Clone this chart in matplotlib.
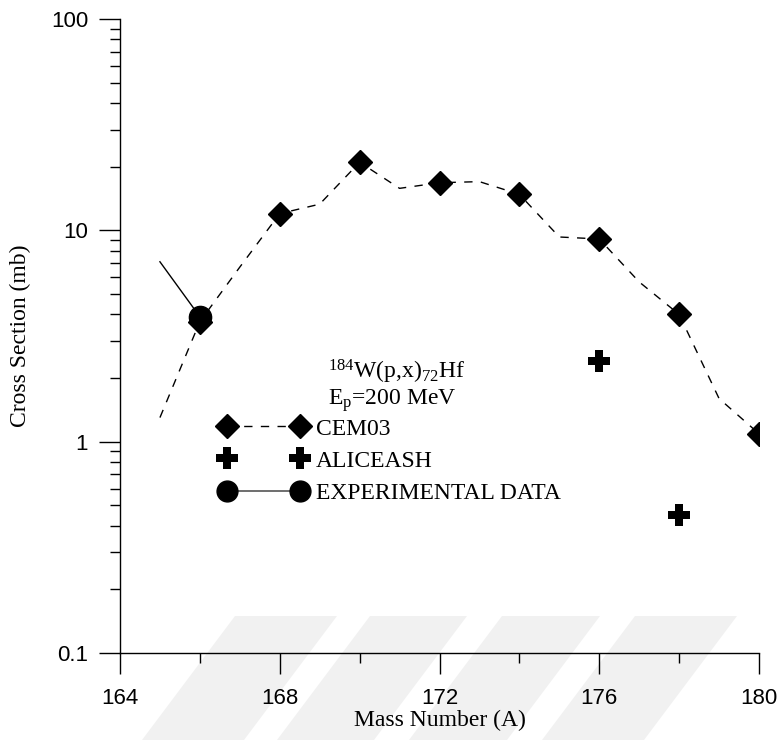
import matplotlib
matplotlib.use('Agg')
import matplotlib.pyplot as plt
from matplotlib.lines import Line2D
from matplotlib.patches import Polygon
from matplotlib.ticker import FixedLocator, LogLocator, NullFormatter

plt.rcParams['mathtext.fontset'] = 'custom'
plt.rcParams['mathtext.rm'] = 'Liberation Serif'
plt.rcParams['mathtext.it'] = 'Liberation Serif:italic'

# CEM03 calculation (markers at even A, dashed curve through all A)
cem_a = [166, 168, 170, 172, 174, 176, 178, 180]
cem_xs = [3.7, 12.0, 21.0, 16.8, 14.8, 9.1, 4.0, 1.09]
cem_curve_a = [165, 166, 167, 168, 169, 170, 171, 172, 173, 174, 175, 176, 177, 178, 179, 180]
cem_curve_xs = [1.3, 3.7, 6.7, 12.0, 13.3, 21.0, 15.8, 16.8, 17.0, 14.8, 9.3, 9.1, 5.7, 4.0, 1.6, 1.09]

# ALICEASH calculation
alice_a = [176, 178]
alice_xs = [2.4, 0.45]

# experimental data
exp_a = [165, 166]
exp_xs = [7.1, 3.9]

fig = plt.figure(figsize=(7.8, 7.4), dpi=100)

# faint watermark stripes in the background
stripes = [(235, 337), (370, 467), (502, 600), (635, 737)]
for left, right in stripes:
    top, bottom = 616, 760
    shift = 0.75 * (bottom - top)
    pts = [(left, top), (right, top), (right - shift, bottom), (left - shift, bottom)]
    pts = [(px / 780, 1 - py / 740) for px, py in pts]
    fig.patches.append(Polygon(pts, closed=True, transform=fig.transFigure,
                               facecolor='#f1f1f1', edgecolor='none', zorder=-10))

ax = fig.add_axes([120 / 780, 87 / 740, 639 / 780, 634 / 740])
ax.patch.set_alpha(0)

ax.plot(cem_curve_a, cem_curve_xs, color='black', lw=1, ls=(0, (6, 6)), zorder=2)
ax.plot(cem_a, cem_xs, ls='none', marker='D', ms=12, color='black', zorder=3)
ax.plot(alice_a, alice_xs, ls='none', marker='P', ms=16, color='black', mew=0, zorder=3)
ax.plot(exp_a, exp_xs, color='black', lw=1, zorder=2)
ax.plot(exp_a[1:], exp_xs[1:], ls='none', marker='o', ms=16, color='black', zorder=4)

ax.set_yscale('log')
ax.set_xlim(164, 180)
ax.set_ylim(0.1, 100)

ax.xaxis.set_major_locator(FixedLocator([164, 168, 172, 176, 180]))
ax.xaxis.set_minor_locator(FixedLocator([166, 170, 174, 178]))
ax.yaxis.set_major_locator(FixedLocator([0.1, 1, 10, 100]))
ax.yaxis.set_minor_locator(LogLocator(base=10, subs=range(2, 10)))
ax.yaxis.set_minor_formatter(NullFormatter())
ax.set_yticklabels(['0.1', '1', '10', '100'])

for s in ['top', 'right']:
    ax.spines[s].set_visible(False)
for s in ['left', 'bottom']:
    ax.spines[s].set_linewidth(1)

ax.tick_params(which='major', direction='out', length=15, width=1)
ax.tick_params(which='minor', direction='out', length=7.5, width=1)
ax.tick_params(axis='x', which='major', pad=10)
ax.tick_params(axis='y', which='major', pad=8)
for lab in ax.get_xticklabels() + ax.get_yticklabels():
    lab.set_fontfamily('Liberation Sans')
    lab.set_fontsize(16)

ax.set_xlabel('Mass Number (A)', family='Liberation Serif', fontsize=17)
ax.set_ylabel('Cross Section (mb)', family='Liberation Serif', fontsize=17)
ax.xaxis.set_label_coords(0.5, -0.09)
ax.yaxis.set_label_coords(-0.14, 0.5)

ax.text((328 - 120) / 639, 1 - (372 - 19) / 634,
        r'$^{184}$W(p,x)$_{72}$Hf', transform=ax.transAxes,
        family='Liberation Serif', fontsize=17, ha='left', va='center')
ax.text((328 - 120) / 639, 1 - (401 - 19) / 634,
        r'E$_{\mathrm{p}}$=200 MeV', transform=ax.transAxes,
        family='Liberation Serif', fontsize=17, ha='left', va='center')

handles = [
    Line2D([], [], color='black', lw=1, ls=(0, (6, 6)), marker='D', ms=12),
    Line2D([], [], ls='none', marker='P', ms=16, mew=0, color='black'),
    Line2D([], [], color='#555555', lw=1.2, marker='o', ms=15,
           mfc='black', mec='black'),
]
labels = ['CEM03', 'ALICEASH', 'EXPERIMENTAL DATA']
leg = ax.legend(handles, labels, numpoints=2, frameon=False,
                loc='upper left', bbox_to_anchor=((220 - 120) / 639, 1 - (418 - 19) / 634),
                prop={'family': 'Liberation Serif', 'size': 17},
                handlelength=3.7, handletextpad=0.35, labelspacing=0.45,
                borderpad=0, borderaxespad=0)

fig.savefig('out.png', dpi=100)
